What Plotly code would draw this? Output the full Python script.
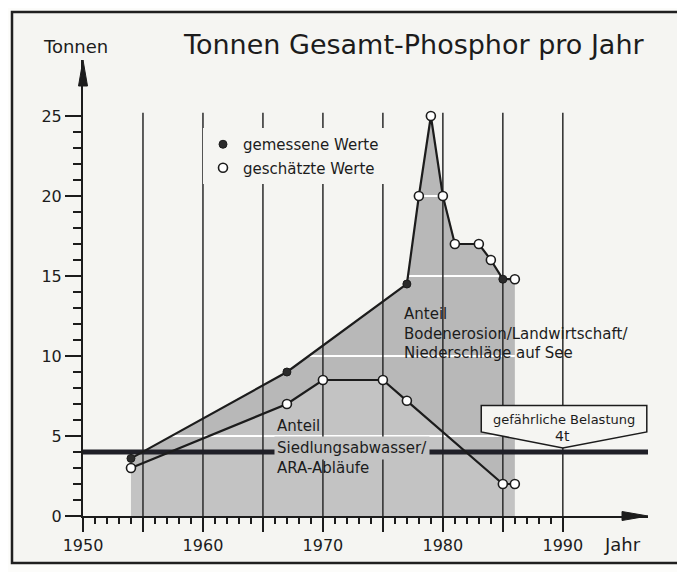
import plotly.graph_objects as go

# ---------------- data ----------------
total_years = [1954, 1967, 1977, 1978, 1979, 1980, 1981, 1983, 1984, 1985, 1986]
total_vals = [3.6, 9.0, 14.5, 20.0, 25.0, 20.0, 17.0, 17.0, 16.0, 14.8, 14.8]
total_measured = [True, True, True, False, False, False, False, False, False, True, False]

sied_years = [1954, 1967, 1970, 1975, 1977, 1985, 1986]
sied_vals = [3.0, 7.0, 8.5, 8.5, 7.2, 2.0, 2.0]

threshold = 4
x_ticks = [1950, 1955, 1960, 1965, 1970, 1975, 1980, 1985, 1990]
x_ticktext = ["1950", "", "1960", "", "1970", "", "1980", "", "1990"]
y_ticks = [0, 5, 10, 15, 20, 25]
y_ticktext = ["0", "5", "10", "15", "20", "25"]
grid_years = [1955, 1960, 1965, 1970, 1975, 1980, 1985, 1990]
white_levels = [5, 10, 15, 20]

X_RANGE = [1950, 1997.1]
Y_RANGE = [0, 28.5]
GRID_TOP = 25.2

FONT = "DejaVu Sans"
INK = "#1c1c1c"
BG = "#f5f5f2"
FILL_LOW = "#c3c3c3"
FILL_HIGH = "#b8b8b8"


def segments_above(xs, ys, level):
    segs = []
    start = xs[0] if ys[0] > level else None
    for i in range(len(xs) - 1):
        x0, y0, x1, y1 = xs[i], ys[i], xs[i + 1], ys[i + 1]
        if y0 <= level < y1:
            start = x0 + (level - y0) / (y1 - y0) * (x1 - x0)
        elif y0 > level >= y1:
            end = x0 + (level - y0) / (y1 - y0) * (x1 - x0)
            segs.append((start, end))
            start = None
    if start is not None:
        segs.append((start, xs[-1]))
    return segs


fig = go.Figure()

# shaded areas
fig.add_trace(go.Scatter(x=sied_years, y=sied_vals, mode="lines", line=dict(width=0),
                         fill="tozeroy", fillcolor=FILL_LOW, showlegend=False, hoverinfo="skip"))
fig.add_trace(go.Scatter(x=total_years, y=total_vals, mode="lines", line=dict(width=0),
                         fill="tonexty", fillcolor=FILL_HIGH, showlegend=False, hoverinfo="skip"))

# white horizontal grid lines inside the shaded area
wx, wy = [], []
for lv in white_levels:
    for a, b in segments_above(total_years, total_vals, lv):
        wx += [a, b, None]
        wy += [lv, lv, None]
fig.add_trace(go.Scatter(x=wx, y=wy, mode="lines", line=dict(color="white", width=2),
                         showlegend=False, hoverinfo="skip"))

# vertical grid lines
gx, gy = [], []
for yr in grid_years:
    gx += [yr, yr, None]
    gy += [0, GRID_TOP, None]
fig.add_trace(go.Scatter(x=gx, y=gy, mode="lines", line=dict(color="#2a2a2a", width=1.5),
                         showlegend=False, hoverinfo="skip"))

# dangerous load line
fig.add_trace(go.Scatter(x=X_RANGE, y=[threshold, threshold], mode="lines",
                         line=dict(color="#202028", width=5), showlegend=False, hoverinfo="skip"))

# data lines
fig.add_trace(go.Scatter(x=total_years, y=total_vals, mode="lines",
                         line=dict(color=INK, width=2.2), showlegend=False, hoverinfo="skip"))
fig.add_trace(go.Scatter(x=sied_years, y=sied_vals, mode="lines",
                         line=dict(color=INK, width=2.2), showlegend=False, hoverinfo="skip"))

# markers
mx = [x for x, m in zip(total_years, total_measured) if m]
my = [y for y, m in zip(total_vals, total_measured) if m]
ex = [x for x, m in zip(total_years, total_measured) if not m] + sied_years
ey = [y for y, m in zip(total_vals, total_measured) if not m] + sied_vals

fig.add_trace(go.Scatter(x=mx, y=my, mode="markers", name="gemessene Werte", legendgroup="a",
                         marker=dict(symbol="circle", size=8, color="#2b2b2b",
                                     line=dict(color=INK, width=1))))
fig.add_trace(go.Scatter(x=ex, y=ey, mode="markers", name="geschätzte Werte", legendgroup="b",
                         marker=dict(symbol="circle", size=9, color="white",
                                     line=dict(color=INK, width=1.6))))

# page body has an 8px default margin: work in window pixels, convert to figure
OFF = 8
WIN_W, WIN_H = 685, 572
W, H = WIN_W - OFF, WIN_H - OFF
PLOT_L, PLOT_R, PLOT_T, PLOT_B = 83, 648, 60, 516   # window pixels of plot area
L, R, T, B = PLOT_L - OFF, W - (PLOT_R - OFF), PLOT_T - OFF, H - (PLOT_B - OFF)
pw, ph = PLOT_R - PLOT_L, PLOT_B - PLOT_T


def px(xpix):
    return (xpix - PLOT_L) / pw


def py(ypix):
    return (PLOT_B - ypix) / ph


shapes = [
    # outer frame
    dict(type="rect", xref="paper", yref="paper", x0=px(12), x1=px(680), y0=py(563), y1=py(12),
         line=dict(color="#202020", width=2.5), fillcolor=BG, layer="below"),
    # y-axis arrow
    dict(type="path", xref="paper", yref="paper",
         path=f"M {px(83)},{py(60)} L {px(87.5)},{py(86)} L {px(78.5)},{py(86)} Z",
         fillcolor=INK, line=dict(color=INK, width=1)),
    # x-axis arrow
    dict(type="path", xref="paper", yref="paper",
         path=f"M {px(648)},{py(516)} L {px(622)},{py(511.5)} L {px(622)},{py(520.5)} Z",
         fillcolor=INK, line=dict(color=INK, width=1)),
    # callout box for dangerous load
    dict(type="path", xref="x", yref="y",
         path="M 1983.2,6.9 L 1997.0,6.9 L 1997.0,5.25 L 1990,4.25 L 1983.2,5.25 Z",
         fillcolor=BG, line=dict(color=INK, width=1.5), layer="above"),
]

annotations = [
    dict(text="Tonnen", xref="paper", yref="paper", x=px(41), y=py(46), xanchor="left",
         yanchor="middle", showarrow=False, font=dict(size=18, family=FONT, color=INK)),
    dict(text="Tonnen Gesamt-Phosphor pro Jahr", xref="paper", yref="paper", x=px(181), y=py(45),
         xanchor="left", yanchor="middle", showarrow=False, font=dict(size=27, family=FONT, color=INK)),
    dict(text="Jahr", xref="paper", yref="paper", x=px(602), y=py(544), xanchor="left",
         yanchor="middle", showarrow=False, font=dict(size=18, family=FONT, color=INK)),
    dict(text="Anteil<br>Bodenerosion/Landwirtschaft/<br>Niederschläge auf See", xref="x", yref="y",
         x=1976.6, y=11.4, xanchor="left", yanchor="middle", align="left", showarrow=False,
         font=dict(size=15, family=FONT, color=INK)),
    dict(text="Anteil", xref="x", yref="y", x=1966.0, y=5.6, xanchor="left", yanchor="middle",
         showarrow=False, font=dict(size=15, family=FONT, color=INK)),
    dict(text="Siedlungsabwasser/", xref="x", yref="y", x=1965.9, y=4.25, xanchor="left",
         yanchor="middle", showarrow=False, bgcolor=FILL_LOW, borderpad=2,
         font=dict(size=15, family=FONT, color=INK)),
    dict(text="ARA-Abläufe", xref="x", yref="y", x=1966.0, y=3.0, xanchor="left", yanchor="middle",
         showarrow=False, font=dict(size=15, family=FONT, color=INK)),
    dict(text="gefährliche Belastung", xref="x", yref="y", x=1990.1, y=6.02, xanchor="center",
         yanchor="middle", showarrow=False, font=dict(size=13, family=FONT, color=INK)),
    dict(text="4t", xref="x", yref="y", x=1990.0, y=4.98, xanchor="center",
         yanchor="middle", showarrow=False, font=dict(size=14, family=FONT, color=INK)),
]

fig.update_layout(
    width=W, height=H,
    margin=dict(l=L, r=R, t=T, b=B, pad=0, autoexpand=False),
    paper_bgcolor="#fcfcfa",
    plot_bgcolor=BG,
    font=dict(family=FONT, color=INK),
    shapes=shapes,
    annotations=annotations,
    showlegend=True,
    legend=dict(x=px(203), y=py(128), xanchor="left", yanchor="top", bgcolor=BG,
                font=dict(size=15, family=FONT, color=INK), traceorder="grouped",
                tracegroupgap=1, borderwidth=0),
    xaxis=dict(range=X_RANGE, showgrid=False, zeroline=False, showline=True, linecolor=INK,
               linewidth=2, ticks="outside", ticklen=14, tickwidth=1.5, tickcolor=INK,
               automargin=False,
               tickmode="array", tickvals=x_ticks, ticktext=x_ticktext,
               tickfont=dict(size=16, family=FONT, color=INK),
               minor=dict(ticks="outside", ticklen=6, tickwidth=1.5, tickcolor=INK,
                          tickmode="array", tickvals=[y for y in range(1951, 1990) if y % 5])),
    yaxis=dict(range=Y_RANGE, showgrid=False, zeroline=False, showline=True, linecolor=INK,
               linewidth=2, ticks="outside", ticklen=16, tickwidth=1.5, tickcolor=INK,
               automargin=False,
               tickmode="array", tickvals=y_ticks, ticktext=y_ticktext,
               tickfont=dict(size=16, family=FONT, color=INK),
               minor=dict(ticks="outside", ticklen=8, tickwidth=1.5, tickcolor=INK,
                          tickmode="array", tickvals=[v for v in range(1, 25) if v % 5])),
)

fig.write_html("out.html")
